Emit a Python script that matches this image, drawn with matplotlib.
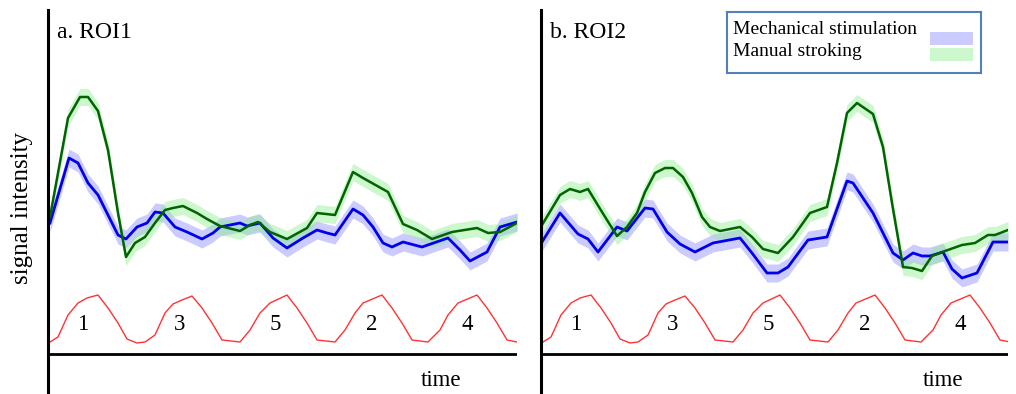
import matplotlib
matplotlib.use('Agg')
import matplotlib.pyplot as plt
from matplotlib.patches import Rectangle

# time axis (arbitrary units) and signal intensity (arbitrary units, 0 = time axis)
roi1_green_t = [2, 20, 32, 40, 50, 60, 70, 78, 87, 97, 107, 117, 125, 135, 149, 159, 172, 192, 202, 210,
                222, 239, 259, 269, 287, 305, 315, 340, 355, 369, 384, 404, 429, 440, 452, 469]
roi1_green = [137, 236, 257, 257, 243, 204, 141, 97, 111, 117, 131, 144, 146, 148, 141, 135, 128, 123, 129, 132,
              122, 115, 126, 141, 139, 182, 176, 162, 130, 124, 115, 122, 126, 121, 122, 131]

roi1_blue_t = [2, 21, 30, 40, 50, 70, 78, 89, 99, 107, 115, 127, 139, 154, 165, 172, 192, 199, 212, 225,
               239, 255, 269, 279, 287, 305, 315, 325, 335, 344, 355, 374, 400, 412, 422, 439, 452, 469]
roi1_blue = [131, 196, 191, 171, 159, 119, 115, 127, 131, 142, 141, 127, 122, 115, 121, 127, 131, 128, 131, 116,
             106, 116, 124, 121, 119, 145, 139, 127, 111, 107, 112, 107, 116, 104, 93, 102, 127, 132]

roi2_green_t = [1, 19, 29, 39, 47, 61, 76, 86, 96, 104, 114, 124, 132, 142, 151, 161, 169, 179, 189, 199, 211,
                222, 237, 252, 269, 286, 296, 306, 316, 332, 342, 351, 362, 371, 381, 391, 404, 421, 434, 447, 454, 467]
roi2_green = [129, 159, 165, 162, 165, 142, 118, 127, 141, 162, 181, 186, 186, 177, 161, 137, 127, 123, 125, 127, 117,
              105, 101, 117, 141, 147, 191, 241, 251, 240, 207, 151, 87, 86, 83, 98, 103, 109, 111, 119, 119, 124]

roi2_blue_t = [1, 19, 37, 47, 57, 76, 86, 104, 112, 126, 139, 154, 172, 199, 211, 226, 237, 247, 267, 286,
               306, 312, 332, 352, 362, 372, 381, 389, 402, 411, 421, 436, 452, 467]
roi2_blue = [112, 141, 120, 115, 102, 127, 123, 146, 145, 122, 110, 102, 111, 116, 101, 81, 81, 87, 114, 117,
             173, 171, 141, 101, 94, 101, 98, 98, 102, 85, 76, 81, 112, 112]

stim_t = [2, 10, 20, 30, 39, 50, 60, 70, 79, 89, 97, 107, 117, 125, 134, 144, 154, 164, 174, 192, 202, 212,
          222, 239, 249, 259, 269, 287, 297, 307, 315, 334, 344, 354, 364, 380, 392, 400, 410, 429, 439, 449, 459, 469]
stim = [12, 17, 39, 51, 56, 59, 46, 31, 15, 11, 12, 19, 41, 50, 54, 58, 46, 31, 14, 12, 24, 41,
        51, 59, 46, 31, 14, 12, 24, 41, 51, 59, 46, 31, 14, 12, 24, 39, 51, 59, 46, 31, 14, 12]

stim_labels = ['1', '3', '5', '2', '4']
stim_label_t = [35, 132, 227, 324, 419]

panels = [
    ('a. ROI1', roi1_blue_t, roi1_blue, roi1_green_t, roi1_green, 393),
    ('b. ROI2', roi2_blue_t, roi2_blue, roi2_green_t, roi2_green, 402),
]

serif = ['Liberation Serif', 'DejaVu Serif']
blue_err = 9
green_err = 8.5

fig = plt.figure(figsize=(10.16, 3.94), dpi=100)
axes_rects = [[48 / 1016, 0, 469 / 1016, 384 / 394],
              [541 / 1016, 0, 467 / 1016, 384 / 394]]

for rect, (title, bt, bv, gt, gv, time_x) in zip(axes_rects, panels):
    ax = fig.add_axes(rect)
    ax.fill_between(bt, [v - blue_err for v in bv], [v + blue_err for v in bv],
                    color='#9999ff', alpha=0.5, lw=0)
    ax.fill_between(gt, [v - green_err for v in gv], [v + green_err for v in gv],
                    color='#90ee90', alpha=0.45, lw=0)
    ax.plot(bt, bv, color='#0000ee', lw=2)
    ax.plot(gt, gv, color='#006400', lw=1.8)
    ax.plot(stim_t, stim, color='#ff3333', lw=1)
    for lab, t in zip(stim_labels, stim_label_t):
        ax.text(t, 29, lab, fontsize=16.5, family=serif, ha='center', va='center')
    ax.axhline(0, color='black', lw=2)
    ax.text(time_x, -27, 'time', fontsize=16.5, family=serif, ha='center', va='center')
    ax.text(9, 321, title, fontsize=17, family=serif, ha='left', va='center')
    ax.set_xlim(0, rect[2] * 1016)
    ax.set_ylim(-40, 344)
    for s in ['top', 'right', 'bottom']:
        ax.spines[s].set_visible(False)
    ax.spines['left'].set_linewidth(2.2)
    ax.set_xticks([])
    ax.set_yticks([])
    ax.patch.set_alpha(0)

fig.text(22 / 1016, 1 - 208 / 394, 'signal intensity', rotation=90, fontsize=18,
         family=serif, ha='center', va='center')

# legend box drawn by hand so the colour patches sit to the right of the text
lax = fig.add_axes([727 / 1016, 1 - 73 / 394, 254 / 1016, 61 / 394])
lax.set_xlim(0, 254)
lax.set_ylim(61, 0)
lax.set_xticks([])
lax.set_yticks([])
for s in lax.spines.values():
    s.set_edgecolor('#4f81bd')
    s.set_linewidth(1.5)
lax.text(6, 18, 'Mechanical stimulation', fontsize=14, family=serif, va='center')
lax.text(6, 40, 'Manual stroking', fontsize=14, family=serif, va='center')
lax.add_patch(Rectangle((203, 20), 43, 13, color='#9999ff', alpha=0.5, lw=0))
lax.add_patch(Rectangle((203, 36), 43, 13, color='#90ee90', alpha=0.45, lw=0))

fig.savefig('out.png', dpi=100)
